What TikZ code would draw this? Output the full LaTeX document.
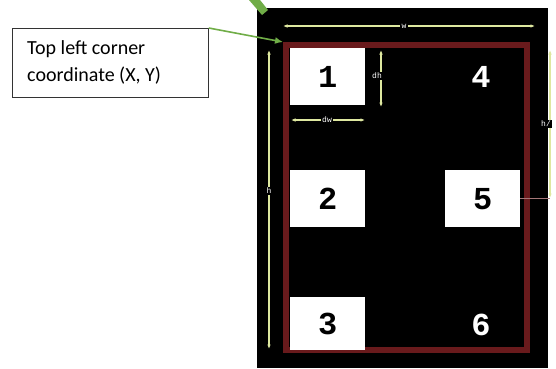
\documentclass[tikz,border=0pt]{standalone}
\usepackage{fontspec}
\setmainfont{Carlito}
\newfontfamily\monofnt{Liberation Mono}
\usetikzlibrary{arrows.meta}
\definecolor{frame}{RGB}{105,26,28}
\definecolor{dimc}{RGB}{222,232,160}
\definecolor{grn}{RGB}{112,173,71}
\tikzset{
  numbox/.style={fill=white, draw=none, minimum width=75pt, minimum height=57pt, inner sep=0pt, font=\monofnt\bfseries\fontsize{32}{32}\selectfont, text=black},
  numtext/.style={font=\monofnt\bfseries\fontsize{32}{32}\selectfont, text=white, inner sep=0pt},
  dimline/.style={draw=dimc, line width=1.2pt, {Latex[length=4.5pt,width=3.5pt]}-{Latex[length=4.5pt,width=3.5pt]}},
  dimlabel/.style={fill=black, text=white, font=\monofnt\fontsize{8}{8}\selectfont, inner sep=1.2pt},
}
\begin{document}
\begin{tikzpicture}[x=1pt,y=-1pt]
\useasboundingbox (0,0) rectangle (556,368);
\fill[white] (0,0) rectangle (556,368);
% black field
\fill[black] (257,8) rectangle (548,368);
% green fragment at top
\fill[grn] (249,0) -- (260,0) -- (268,10) -- (262,15) -- cycle;
% red frame
\draw[frame, line width=6pt] (286,45) rectangle (527,350);
% boxes
\node[numbox, anchor=north west] (b1) at (290,48) {1};
\node[numbox, anchor=north west] (b2) at (290,170) {2};
\node[numbox, anchor=north west, minimum height=53pt] (b3) at (290,297) {3};
\node[numbox, anchor=north west] (b5) at (445,170) {5};
\node[numtext] (n4) at (481,77) {4};
\node[numtext] (n6) at (481,325) {6};
% dimension w
\coordinate (wl) at (283,26);
\coordinate (wr) at (535,26);
\draw[dimline] (wl) -- (wr);
\node[dimlabel] (lw) at (404,26) {w};
% dimension h
\coordinate (ht) at (269,50);
\coordinate (hb) at (269,349);
\draw[dimline] (ht) -- (hb);
\node[dimlabel] (lh) at (269,191) {h};
% dimension dh
\coordinate (dht) at (381,50);
\coordinate (dhb) at (381,107);
\draw[dimline] (dht) -- (dhb);
\node[dimlabel] (ldh) at (377,76) {dh};
% dimension dw
\coordinate (dwl) at (291,120);
\coordinate (dwr) at (365,120);
\draw[dimline] (dwl) -- (dwr);
\node[dimlabel] (ldw) at (327,120) {dw};
% h/2
\coordinate (h2t) at (550,50);
\coordinate (h2b) at (550,198);
\draw[dimline] (h2t) -- (h2b);
\node[dimlabel] (lh2) at (546,124) {h/};
\draw[draw=frame!60!white, line width=0.6pt] (b5.east |- h2b) -- (h2b);
% callout
\node[draw=black!80, line width=0.8pt, minimum width=196pt, minimum height=69pt, anchor=north west, inner sep=0pt] (cb) at (12,28) {};
\node[anchor=west, font=\fontsize{20}{27}\selectfont, align=left, inner sep=0pt] (ct) at (27,62) {Top left corner\\coordinate (X, Y)};
\coordinate (corner) at (283,42);
\draw[grn, line width=1.6pt, -{Latex[length=8pt,width=7pt]}] (cb.north east) -- (corner);
\end{tikzpicture}
\end{document}
